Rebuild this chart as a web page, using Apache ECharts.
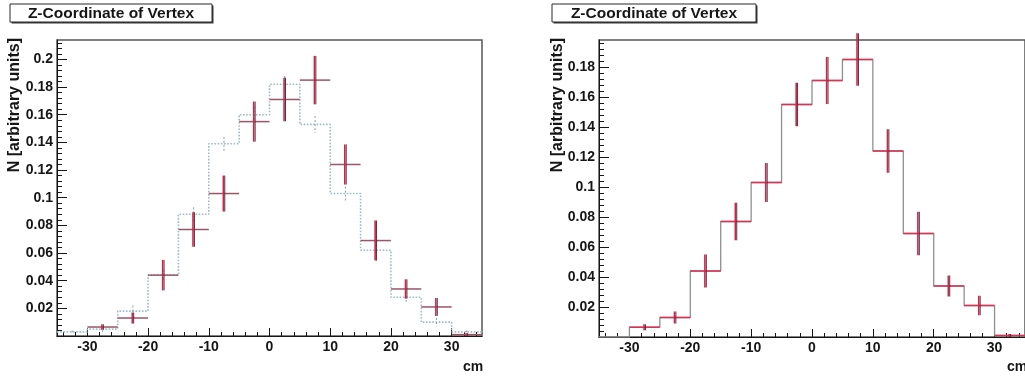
<!DOCTYPE html>
<html>
<head>
<meta charset="utf-8">
<script src="https://cdn.jsdelivr.net/npm/echarts@6/dist/echarts.min.js"></script>
<style>
  html, body { margin: 0; padding: 0; background: #fff; }
  #chart { width: 1025px; height: 378px; }
</style>
</head>
<body>
<div id="chart"></div>
<script>
// Histogram binning along z (cm)
const binEdges = [-35, -30, -25, -20, -15, -10, -5, 0, 5, 10, 15, 20, 25, 30, 35];

// Measured distribution (points with errors), one value per bin
const dataValues = [0, 0.0065, 0.013, 0.044, 0.077, 0.103, 0.155, 0.171, 0.185, 0.124, 0.069, 0.034, 0.021, 0.001];
const dataErrors = [0, 0.002, 0.004, 0.011, 0.0125, 0.013, 0.0145, 0.0157, 0.0175, 0.0145, 0.0145, 0.007, 0.0065, 0.001];

// Simulated distribution (dotted histogram, left pad)
const mcValues = [0.003, 0.005, 0.018, 0.044, 0.088, 0.139, 0.160, 0.182, 0.153, 0.103, 0.062, 0.028, 0.010, 0.003];
const mcErrors = [0.001, 0.002, 0.004, 0.004, 0.005, 0.005, 0.006, 0.006, 0.006, 0.005, 0.004, 0.004, 0.003, 0.001];

// Axis ticks
const xMajorTicks = [-30, -20, -10, 0, 10, 20, 30];
const xMinorTicks = [-34, -32, -30, -28, -26, -24, -22, -20, -18, -16, -14, -12, -10, -8, -6, -4, -2, 0,
                     2, 4, 6, 8, 10, 12, 14, 16, 18, 20, 22, 24, 26, 28, 30, 32, 34];
const yMajorTicksLeft = [0.02, 0.04, 0.06, 0.08, 0.1, 0.12, 0.14, 0.16, 0.18, 0.2];
const yMajorTicksRight = [0.02, 0.04, 0.06, 0.08, 0.1, 0.12, 0.14, 0.16, 0.18];
const yMaxLeft = 0.214;
const yMaxRight = 0.198;

const titleText = 'Z-Coordinate of Vertex';
const yAxisTitle = 'N [arbitrary units]';
const xAxisTitle = 'cm';

const FONT = '"Liberation Sans", Arial, Helvetica, sans-serif';
const INK = '#161616';

function minorTicksUpTo(max) {
  const out = [];
  for (let k = 1; k * 0.004 <= max + 1e-9; k++) out.push(+(k * 0.004).toFixed(3));
  return out;
}

function stepPoints(values) {
  const pts = values.map((v, i) => [binEdges[i], v]);
  pts.push([binEdges[values.length], values[values.length - 1]]);
  return pts;
}

function binRows(values, errors) {
  return values.map((v, i) => [binEdges[i], binEdges[i + 1], v, errors[i]]);
}

function crossRenderer(hColor, vColor, darkColor) {
  return function (params, api) {
    const lo = api.value(0), hi = api.value(1), v = api.value(2), e = api.value(3);
    if (!(v > 0)) return null;
    const mid = (lo + hi) / 2;
    const pL = api.coord([lo, v]);
    const pR = api.coord([hi, v]);
    const pT = api.coord([mid, v + e]);
    const pB = api.coord([mid, v - e]);
    return {
      type: 'group',
      children: [
        { type: 'line', shape: { x1: pL[0], y1: pL[1], x2: pR[0], y2: pR[1] },
          style: { stroke: hColor, lineWidth: 1.5 } },
        { type: 'line', shape: { x1: pT[0] + 0.8, y1: pT[1], x2: pB[0] + 0.8, y2: pB[1] },
          style: { stroke: darkColor, lineWidth: 1 } },
        { type: 'line', shape: { x1: pT[0] - 0.6, y1: pT[1], x2: pB[0] - 0.6, y2: pB[1] },
          style: { stroke: vColor, lineWidth: 1.6 } }
      ]
    };
  };
}

function mcErrorRenderer(params, api) {
  const lo = api.value(0), hi = api.value(1), v = api.value(2), e = api.value(3);
  const mid = (lo + hi) / 2;
  const pT = api.coord([mid, v + e]);
  const pB = api.coord([mid, v - e]);
  return { type: 'line', shape: { x1: pT[0], y1: pT[1], x2: pB[0], y2: pB[1] },
           style: { stroke: '#8a9aa2', lineWidth: 1, lineDash: [2, 2] } };
}

function xAxes(gridIndex) {
  return [
    {
      gridIndex, type: 'value', position: 'bottom', min: -35, max: 35,
      axisLine: { show: true, onZero: false, lineStyle: { color: INK, width: 1 } },
      axisTick: { show: true, inside: true, length: 4, customValues: xMinorTicks, lineStyle: { color: INK } },
      axisLabel: { show: false }, splitLine: { show: false }
    },
    {
      gridIndex, type: 'value', position: 'bottom', min: -35, max: 35,
      axisLine: { show: false, onZero: false },
      axisTick: { show: true, inside: true, length: 8, customValues: xMajorTicks, lineStyle: { color: INK } },
      axisLabel: { show: true, customValues: xMajorTicks, margin: 4,
                   fontFamily: FONT, fontWeight: 'bold', fontSize: 14, color: INK },
      splitLine: { show: false }
    }
  ];
}

function yAxes(gridIndex, max, majors) {
  return [
    {
      gridIndex, type: 'value', position: 'left', min: 0, max,
      axisLine: { show: true, onZero: false, lineStyle: { color: INK, width: 1 } },
      axisTick: { show: true, inside: true, length: 5, customValues: minorTicksUpTo(max), lineStyle: { color: INK } },
      axisLabel: { show: false }, splitLine: { show: false }
    },
    {
      gridIndex, type: 'value', position: 'left', min: 0, max,
      axisLine: { show: false, onZero: false },
      axisTick: { show: true, inside: true, length: 10, customValues: majors, lineStyle: { color: INK } },
      axisLabel: { show: true, customValues: majors, margin: 4,
                   fontFamily: FONT, fontWeight: 'bold', fontSize: 14, color: INK },
      splitLine: { show: false }
    }
  ];
}

function titleBox(x, y, w, h) {
  return [
    { type: 'rect', shape: { x: x + 1.5, y: y + 1.5, width: w, height: h }, style: { fill: '#3a3a3a' } },
    { type: 'rect', shape: { x, y, width: w, height: h }, style: { fill: '#fff', stroke: '#2a2a2a', lineWidth: 1 } },
    { type: 'text', x: x + w / 2, y: y + h / 2 + 1,
      style: { text: titleText, font: 'bold 15.5px ' + FONT, fill: INK, align: 'center', verticalAlign: 'middle' } }
  ];
}

function axisTitles(yx, yTop, cmX, cmY) {
  return [
    { type: 'text', x: yx, y: yTop, rotation: Math.PI / 2,
      style: { text: yAxisTitle, font: 'bold 16px ' + FONT, fill: INK, align: 'right', verticalAlign: 'middle' } },
    { type: 'text', x: cmX, y: cmY,
      style: { text: xAxisTitle, font: 'bold 14px ' + FONT, fill: INK, align: 'left', verticalAlign: 'middle' } }
  ];
}

const chart = echarts.init(document.getElementById('chart'), null, { renderer: 'canvas' });

const option = {
  animation: false,
  backgroundColor: '#ffffff',
  grid: [
    { left: 57, top: 40, width: 425, height: 296, show: true, borderColor: '#555', borderWidth: 1.5, backgroundColor: 'transparent' },
    { left: 599, top: 40, width: 428, height: 297, show: true, borderColor: '#555', borderWidth: 1.5, backgroundColor: 'transparent' }
  ],
  xAxis: [...xAxes(0), ...xAxes(1)],
  yAxis: [...yAxes(0, yMaxLeft, yMajorTicksLeft), ...yAxes(1, yMaxRight, yMajorTicksRight)],
  graphic: [
    ...titleBox(10, 4, 202, 18),
    ...titleBox(552, 4, 204, 18),
    ...axisTitles(15, 38, 463, 367),
    ...axisTitles(558, 38, 1007, 367)
  ],
  series: [
    // Left pad: simulated histogram (dotted) with its errors, and the measured points
    {
      type: 'line', xAxisIndex: 0, yAxisIndex: 0, step: 'end', symbol: 'none', z: 2,
      data: stepPoints(mcValues),
      lineStyle: { type: 'dotted', color: '#9dbcc6', width: 1.6 }
    },
    {
      type: 'custom', xAxisIndex: 0, yAxisIndex: 0, z: 3,
      data: binRows(mcValues, mcErrors), renderItem: mcErrorRenderer
    },
    {
      type: 'custom', xAxisIndex: 0, yAxisIndex: 0, z: 4,
      data: binRows(dataValues, dataErrors),
      renderItem: crossRenderer('#9a5566', '#d8204a', '#3a3a3a')
    },
    // Right pad: measured histogram outline plus points
    {
      type: 'line', xAxisIndex: 2, yAxisIndex: 2, step: 'end', symbol: 'none', z: 2,
      data: stepPoints(dataValues),
      lineStyle: { type: 'solid', color: '#8e8e8e', width: 1.3 }
    },
    {
      type: 'custom', xAxisIndex: 2, yAxisIndex: 2, z: 4,
      data: binRows(dataValues, dataErrors),
      renderItem: crossRenderer('#dc3055', '#d8204a', '#3a3a3a')
    }
  ]
};

chart.setOption(option);
</script>
</body>
</html>
